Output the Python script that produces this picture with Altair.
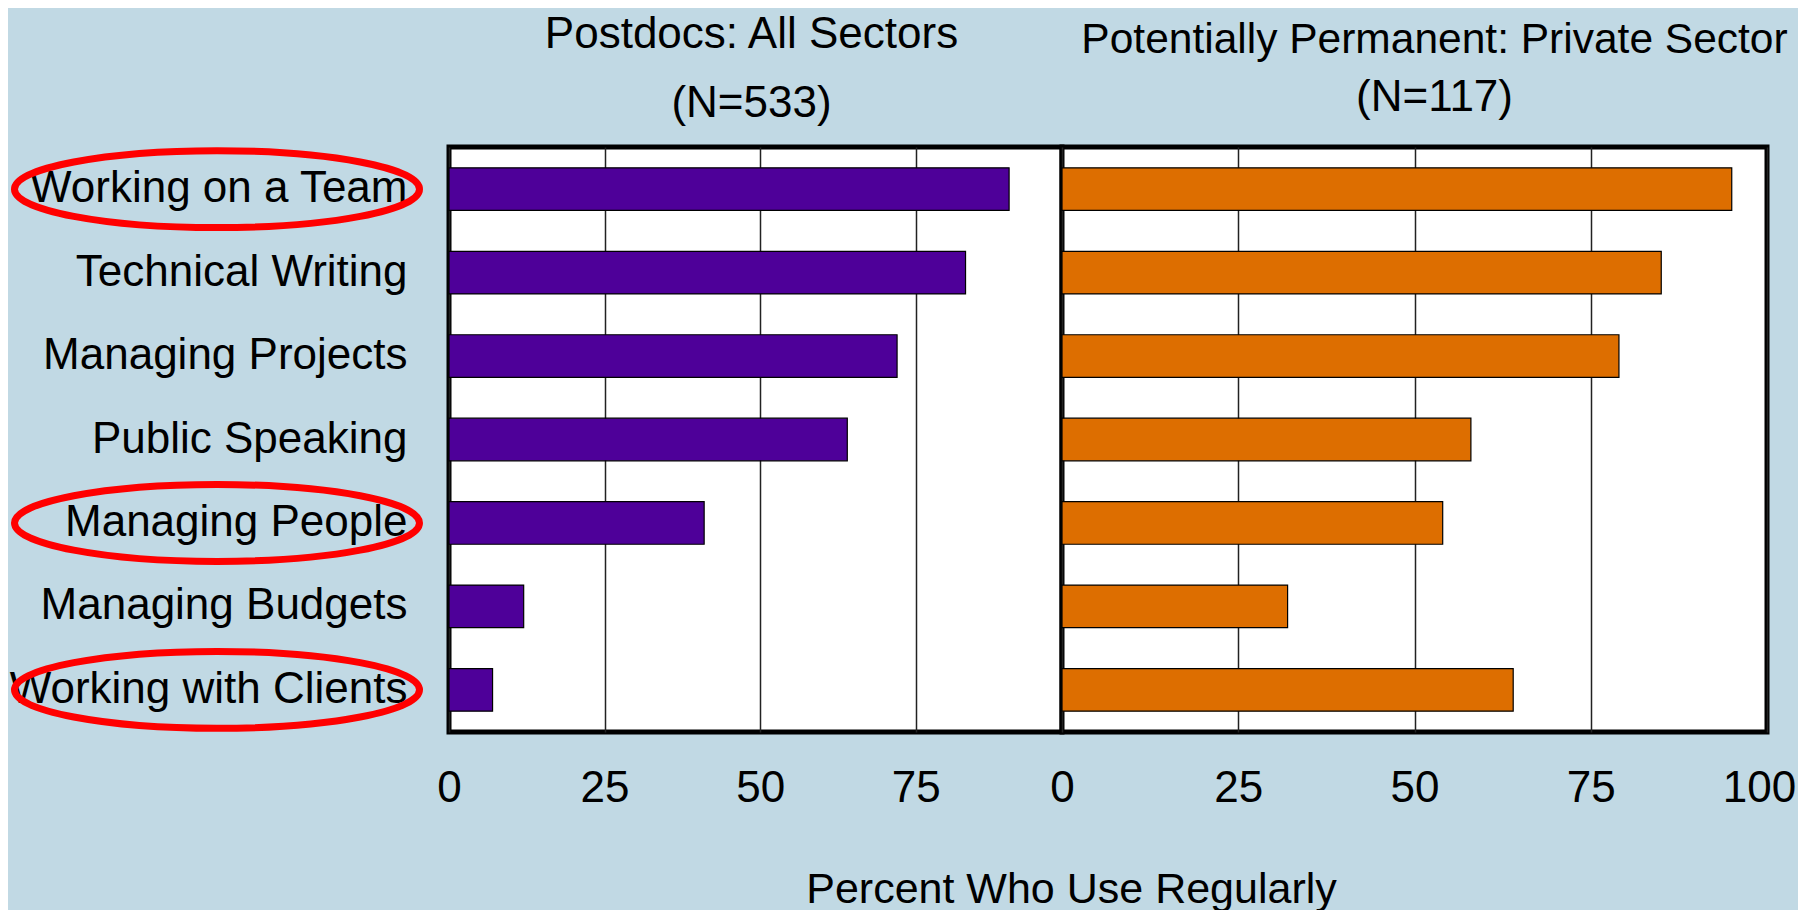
import altair as alt
import pandas as pd

# ---------------- data ----------------
skills = [
    "Working on a Team",
    "Technical Writing",
    "Managing Projects",
    "Public Speaking",
    "Managing People",
    "Managing Budgets",
    "Working with Clients",
]
postdoc_pct = [90, 83, 72, 64, 41, 12, 7]
private_pct = [95, 85, 79, 58, 54, 32, 64]
circled = ["Working on a Team", "Managing People", "Working with Clients"]

left_title = "Postdocs: All Sectors"
left_sub = "(N=533)"
right_title = "Potentially Permanent: Private Sector"
right_sub = "(N=117)"
x_title = "Percent Who Use Regularly"
left_ticks = [0, 25, 50, 75]
right_ticks = [0, 25, 50, 75, 100]

df_left = pd.DataFrame({"skill": skills, "pct": postdoc_pct})
df_right = pd.DataFrame({"skill": skills, "pct": private_pct})
df_circ = pd.DataFrame({"skill": circled})

# ---------------- style ----------------
FONT = "Liberation Sans"
FS = 44
BG = "#C1D9E4"
PURPLE = "#4E0099"
ORANGE = "#DD6E00"
ELLIPSE = "M-1,0 A1,0.19 0 1,0 1,0 A1,0.19 0 1,0 -1,0 Z"

LW, RW, H = 613, 705, 585

ysc = alt.Scale(domain=skills, paddingInner=0.49, paddingOuter=0.25)


def xaxis(values, **kw):
    return alt.Axis(
        values=values, grid=True, gridColor="#222222", gridWidth=1.5,
        ticks=False, domain=False, labelFont=FONT, labelFontSize=FS,
        labelColor="black", labelPadding=34, labelFlush=False, **kw
    )


def title(text, sub, fs, pad, dx, offset):
    return alt.TitleParams(
        text, subtitle=sub, font=FONT, fontSize=fs, fontWeight="normal",
        color="black", subtitleFont=FONT, subtitleFontSize=FS,
        subtitleColor="black", subtitleFontWeight="normal",
        subtitlePadding=pad, anchor="middle", frame="group", offset=offset,
        dx=dx,
    )


left_bars = alt.Chart(df_left).mark_bar(
    color=PURPLE, stroke="black", strokeWidth=1.2
).encode(
    x=alt.X("pct:Q", scale=alt.Scale(domain=[0, 98.5], nice=False, zero=True),
            axis=xaxis(left_ticks, title=x_title, titleFont=FONT, titleFontSize=43,
                       titleFontWeight="normal", titleColor="black",
                       titleX=622, titleY=157, titleBaseline="middle",
                       titleAlign="center", titleAngle=0)),
    y=alt.Y("skill:N", scale=ysc, sort=skills,
            axis=alt.Axis(title=None, ticks=False, domain=False, labelFont=FONT,
                          labelFontSize=FS, labelColor="black", labelPadding=42,
                          labelLimit=0)),
)

ellipses = alt.Chart(df_circ).mark_point(
    shape=ELLIPSE, size=405 * 405, filled=False, stroke="#FF0000",
    strokeWidth=7, opacity=1
).encode(
    y=alt.Y("skill:N", scale=ysc, sort=skills),
    x=alt.value(217 - 449),
)

left = alt.layer(left_bars, ellipses).properties(
    width=LW, height=H,
    title=title(left_title, left_sub, FS, 25, -4, 11),
)

right = alt.Chart(df_right).mark_bar(
    color=ORANGE, stroke="black", strokeWidth=1.2
).encode(
    x=alt.X("pct:Q", scale=alt.Scale(domain=[0, 100], nice=False, zero=True),
            axis=xaxis(right_ticks, title=None,
                       labelOffset={"expr": "datum.value === 100 ? -8 : 0"})),
    y=alt.Y("skill:N", scale=ysc, sort=skills, axis=None),
).properties(
    width=RW, height=H,
    title=title(right_title, right_sub, 42.5, 14.5, 20, 27),
)

chart = alt.hconcat(left, right, spacing=0, bounds="flush").properties(
    autosize=alt.AutoSizeParams(type="none"),
    padding={"left": 441, "top": 139, "right": 1349, "bottom": 750},
).configure(
    background=BG,
).configure_view(
    fill="white", stroke="black", strokeWidth=5
)

chart.save("out.html", embed_options={"renderer": "svg", "actions": False})
